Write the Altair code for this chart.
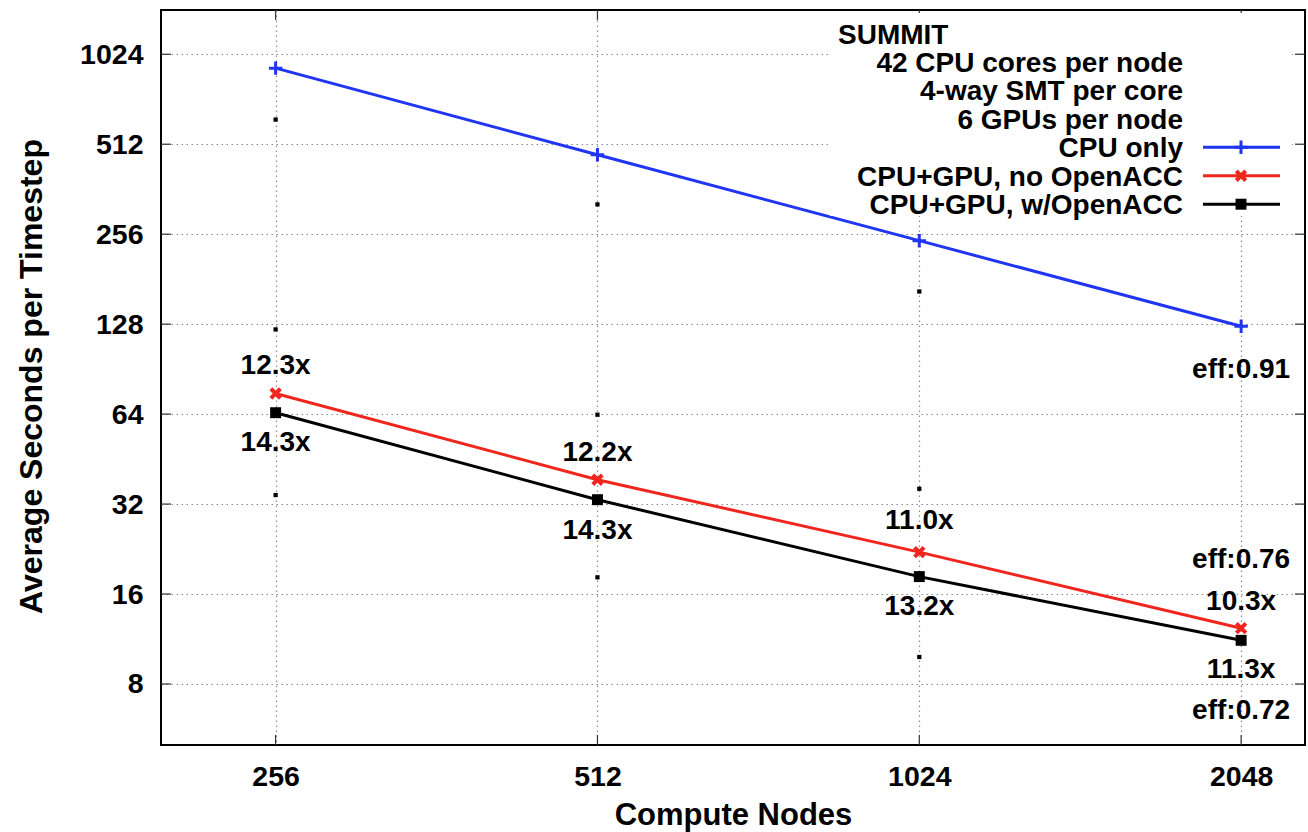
import altair as alt
import pandas as pd

# ---------------- data ----------------
nodes = [256, 512, 1024, 2048]
series_names = ["CPU only", "CPU+GPU, no OpenACC", "CPU+GPU, w/OpenACC"]
cpu_only = [920, 472, 243.5, 125.9]
gpu_no_acc = [75.0, 38.6, 22.1, 12.3]
gpu_acc = [64.7, 33.1, 18.3, 11.2]

dot_nodes = [256, 256, 256, 512, 512, 512, 1024, 1024, 1024]
dot_values = [619, 122.9, 34.3, 322, 63.7, 18.2, 164.6, 36.0, 9.85]

label_nodes = [256, 256, 512, 512, 1024, 1024, 2048, 2048, 2048, 2048, 2048]
label_values = [92.5, 51.3, 47.6, 26.1, 28.0, 14.5, 15.0, 8.94, 90.1, 20.8, 6.49]
label_texts = ["12.3x", "14.3x", "12.2x", "14.3x", "11.0x", "13.2x",
               "10.3x", "11.3x", "eff:0.91", "eff:0.76", "eff:0.72"]

y_ticks = [8, 16, 32, 64, 128, 256, 512, 1024]
x_ticks = [256, 512, 1024, 2048]

legend_header = ["SUMMIT", "42 CPU cores per node", "4-way SMT per core", "6 GPUs per node"]

# ---------------- styling ----------------
FONT = "Liberation Sans"
W, H = 1144, 735
colors = ["#1f35f2", "#f0261e", "#000000"]
TXT = 28

xscale = alt.Scale(type="log", base=2, domain=[200, 2350], nice=False)
yscale = alt.Scale(type="log", base=2, domain=[5, 1440], nice=False)

rows = []
for name, vals in zip(series_names, [cpu_only, gpu_no_acc, gpu_acc]):
    for n, v in zip(nodes, vals):
        rows.append({"series": name, "nodes": n, "value": v})
df = pd.DataFrame(rows)

xenc = alt.X("nodes:Q", scale=xscale,
             axis=alt.Axis(values=x_ticks, format="d", title="Compute Nodes",
                           labelFont=FONT, labelFontSize=28.5, labelFontWeight="bold",
                           labelColor="black", labelPadding=40, labelBaseline="alphabetic",
                           labelOverlap=False, labelFlush=False,
                           ticks=False, tickSize=0, domain=False,
                           grid=True, gridColor="#8a8a8a", gridDash=[1.5, 3.5], gridWidth=1.2,
                           titleFont=FONT, titleFontSize=31, titleFontWeight="bold",
                           titleColor="black", titleY=79, titleBaseline="alphabetic"))
yenc = alt.Y("value:Q", scale=yscale,
             axis=alt.Axis(values=y_ticks, format="d", title="Average Seconds per Timestep",
                           labelFont=FONT, labelFontSize=28.5, labelFontWeight="bold",
                           labelColor="black", labelPadding=18, labelOverlap=False,
                           labelFlush=False,
                           ticks=False, tickSize=0, domain=False,
                           grid=True, gridColor="#8a8a8a", gridDash=[1.5, 3.5], gridWidth=1.2,
                           titleFont=FONT, titleFontSize=32, titleFontWeight="bold",
                           titleColor="black", titleAngle=270, titleX=-120, titleY=366,
                           titleAlign="center", titleBaseline="alphabetic"))

color = alt.Color("series:N", scale=alt.Scale(domain=series_names, range=colors), legend=None)

PLUS = dict(shape="M-1,0L1,0M0,-1L0,1", size=180, filled=False, strokeWidth=3)
CROSS = dict(shape="M-1,-1L1,1M-1,1L1,-1", size=90, filled=False, strokeWidth=4)
SQUARE = dict(shape="square", size=120, filled=True)

base = alt.Chart(df)
lines = base.mark_line(strokeWidth=3).encode(x=xenc, y=yenc, color=color, detail="series:N")

pt_layers = []
for name, spec in zip(series_names, [PLUS, CROSS, SQUARE]):
    pt_layers.append(base.transform_filter(alt.datum.series == name).mark_point(
        opacity=1, **spec).encode(x=alt.X("nodes:Q", scale=xscale),
                                  y=alt.Y("value:Q", scale=yscale), color=color))

dots_df = pd.DataFrame({"nodes": dot_nodes, "value": dot_values})
dots = alt.Chart(dots_df).mark_square(size=18, color="black", opacity=1).encode(
    x=alt.X("nodes:Q", scale=xscale), y=alt.Y("value:Q", scale=yscale))

lab_df = pd.DataFrame({"nodes": label_nodes, "value": label_values, "text": label_texts})
labels = alt.Chart(lab_df).mark_text(font=FONT, fontSize=TXT, fontWeight="bold",
                                     color="black", align="center", baseline="middle").encode(
    x=alt.X("nodes:Q", scale=xscale), y=alt.Y("value:Q", scale=yscale), text="text:N")

# inward tick marks (gnuplot style, mirrored)
yt_df = pd.DataFrame({"value": y_ticks})
xt_df = pd.DataFrame({"nodes": x_ticks})
tick_style = dict(color="#333333", strokeWidth=1.2)
yticks_l = alt.Chart(yt_df).mark_rule(**tick_style).encode(
    y=alt.Y("value:Q", scale=yscale), x=alt.value(0), x2=alt.value(10))
yticks_r = alt.Chart(yt_df).mark_rule(**tick_style).encode(
    y=alt.Y("value:Q", scale=yscale), x=alt.value(W - 10), x2=alt.value(W))
xticks_b = alt.Chart(xt_df).mark_rule(**tick_style).encode(
    x=alt.X("nodes:Q", scale=xscale), y=alt.value(H - 10), y2=alt.value(H))
xticks_t = alt.Chart(xt_df).mark_rule(**tick_style).encode(
    x=alt.X("nodes:Q", scale=xscale), y=alt.value(0), y2=alt.value(10))

# key box and entries
one = alt.Data(values=[{"k": 0}])
key_box = alt.Chart(one).mark_rect(color="white", opacity=1).encode(
    x=alt.value(669), x2=alt.value(1131), y=alt.value(3), y2=alt.value(206))

key_layers = [key_box]
BASE0, STEP = 33.5, 28.45
key_layers.append(alt.Chart(alt.Data(values=[{"t": legend_header[0]}])).mark_text(
    font=FONT, fontSize=TXT, fontWeight="bold", color="black", align="left",
    baseline="alphabetic").encode(text="t:N", x=alt.value(677), y=alt.value(BASE0)))
for i, t in enumerate(legend_header[1:] + series_names, start=1):
    key_layers.append(alt.Chart(alt.Data(values=[{"t": t}])).mark_text(
        font=FONT, fontSize=TXT, fontWeight="bold", color="black", align="right",
        baseline="alphabetic").encode(text="t:N", x=alt.value(1022), y=alt.value(BASE0 + i * STEP)))

for j, (name, col, spec) in enumerate(zip(series_names, colors, [PLUS, CROSS, SQUARE])):
    yy = BASE0 + (4 + j) * STEP - 10
    d = alt.Data(values=[{"t": name}])
    key_layers.append(alt.Chart(d).mark_rule(color=col, strokeWidth=3).encode(
        x=alt.value(1042), x2=alt.value(1119), y=alt.value(yy)))
    key_layers.append(alt.Chart(d).mark_point(color=col, opacity=1, **spec).encode(
        x=alt.value(1080), y=alt.value(yy)))

chart = alt.layer(
    lines, dots, *pt_layers, labels,
    yticks_l, yticks_r, xticks_b, xticks_t,
    *key_layers
).properties(
    width=W, height=H,
    autosize=alt.AutoSizeParams(type="none"),
    padding={"left": 161, "top": 10, "right": 3, "bottom": 87},
    background="white",
).configure_view(stroke="black", strokeWidth=2)

chart.save("out.html", embed_options={"renderer": "svg", "actions": False})
